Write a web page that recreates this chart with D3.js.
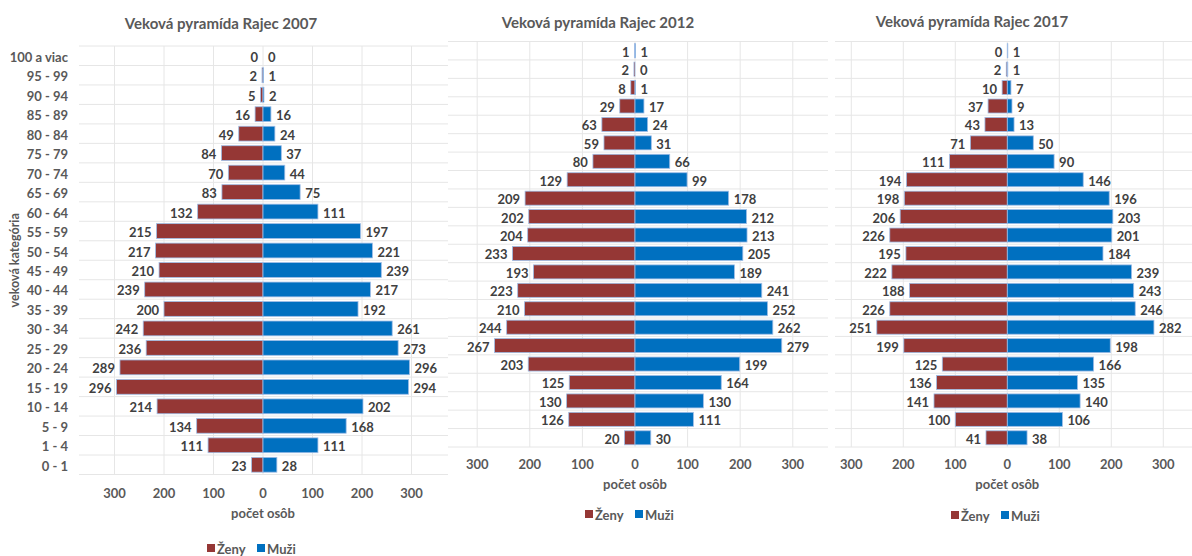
<!DOCTYPE html>
<html>
<head>
<meta charset="utf-8">
<script src="https://cdn.jsdelivr.net/npm/d3@7"></script>
<style>
  html, body { margin: 0; padding: 0; background: #fff; }
  svg { display: block; font-family: Lato, "Open Sans", sans-serif; font-weight: bold; }
</style>
</head>
<body>
<svg id="chart" width="1192" height="556"></svg>
<script>
const categories = ['100 a viac', '95 - 99', '90 - 94', '85 - 89', '80 - 84', '75 - 79', '70 - 74', '65 - 69',
    '60 - 64', '55 - 59', '50 - 54', '45 - 49', '40 - 44', '35 - 39', '30 - 34', '25 - 29', '20 - 24',
    '15 - 19', '10 - 14', '5 - 9', '1 - 4', '0 - 1'];

const years = ['2007', '2012', '2017'];

const zeny2007 = [0, 2, 5, 16, 49, 84, 70, 83, 132, 215, 217, 210, 239, 200, 242, 236, 289, 296, 214, 134, 111, 23];
const muzi2007 = [0, 1, 2, 16, 24, 37, 44, 75, 111, 197, 221, 239, 217, 192, 261, 273, 296, 294, 202, 168, 111, 28];
const zeny2012 = [1, 2, 8, 29, 63, 59, 80, 129, 209, 202, 204, 233, 193, 223, 210, 244, 267, 203, 125, 130, 126, 20];
const muzi2012 = [1, 0, 1, 17, 24, 31, 66, 99, 178, 212, 213, 205, 189, 241, 252, 262, 279, 199, 164, 130, 111, 30];
const zeny2017 = [0, 2, 10, 37, 43, 71, 111, 194, 198, 206, 226, 195, 222, 188, 226, 251, 199, 125, 136, 141, 100, 41];
const muzi2017 = [1, 1, 7, 9, 13, 50, 90, 146, 196, 203, 201, 184, 239, 243, 246, 282, 198, 166, 135, 140, 106, 38];

const ticks = [-300, -200, -100, 0, 100, 200, 300];

const colZeny = '#953735';
const colMuzi = '#0070c0';
const textCol = '#595959';
const labelCol = '#404040';
const gridCol = '#e6e6e6';

// where each panel sits on the page
const panels = [
    { year: years[0], zeny: zeny2007, muzi: muzi2007, left: 79, right: 448, zero: 263, k: 0.495,
      top: 46, bottom: 474.5, titleX: 221, titleY: 23, tickY: 493, axTitleY: 513, legX: 252, legY: 548, yLabels: true },
    { year: years[1], zeny: zeny2012, muzi: muzi2012, left: 448, right: 828, zero: 635, k: 0.526,
      top: 41.5, bottom: 447, titleX: 598, titleY: 22, tickY: 464, axTitleY: 484, legX: 630, legY: 514, yLabels: false },
    { year: years[2], zeny: zeny2017, muzi: muzi2017, left: 835, right: 1192, zero: 1007.3, k: 0.52,
      top: 41.5, bottom: 447, titleX: 972, titleY: 21, tickY: 464, axTitleY: 484, legX: 996, legY: 515, yLabels: false }
];

const svg = d3.select('#chart');

function drawPanel(p) {
    const g = svg.append('g');

    const x = d3.scaleLinear()
        .domain([(p.left - p.zero) / p.k, (p.right - p.zero) / p.k])
        .range([p.left, p.right]);

    const y = d3.scaleBand()
        .domain(categories)
        .range([p.top, p.bottom])
        .paddingInner(0.24)
        .paddingOuter(0.12);

    const step = y.step();

    // horizontal grid lines between rows
    const rowEdges = d3.range(categories.length + 1).map(i => p.top + i * step);
    g.selectAll('.hgrid').data(rowEdges).enter().append('line')
        .attr('x1', p.left).attr('x2', p.right)
        .attr('y1', d => d).attr('y2', d => d)
        .attr('stroke', gridCol).attr('stroke-width', 1);

    g.selectAll('.vgrid').data(ticks).enter().append('line')
        .attr('x1', d => x(d)).attr('x2', d => x(d))
        .attr('y1', p.top).attr('y2', p.bottom)
        .attr('stroke', gridCol).attr('stroke-width', 1);

    const rows = categories.map((c, i) => ({ cat: c, z: p.zeny[i], m: p.muzi[i] }));

    g.selectAll('.barZ').data(rows).enter().append('rect')
        .attr('x', d => x(-d.z))
        .attr('y', d => y(d.cat))
        .attr('width', d => x(0) - x(-d.z))
        .attr('height', y.bandwidth())
        .attr('fill', colZeny)
        .attr('stroke', '#9fbde6').attr('stroke-width', 0.8);

    g.selectAll('.barM').data(rows).enter().append('rect')
        .attr('x', x(0))
        .attr('y', d => y(d.cat))
        .attr('width', d => x(d.m) - x(0))
        .attr('height', y.bandwidth())
        .attr('fill', colMuzi)
        .attr('stroke', '#9fbde6').attr('stroke-width', 0.8);

    g.selectAll('.labZ').data(rows).enter().append('text')
        .attr('x', d => x(-d.z) - 5)
        .attr('y', d => y(d.cat) + y.bandwidth() / 2 + 1)
        .attr('text-anchor', 'end')
        .attr('dominant-baseline', 'central')
        .attr('font-size', 13).attr('fill', labelCol)
        .text(d => d.z);

    g.selectAll('.labM').data(rows).enter().append('text')
        .attr('x', d => x(d.m) + 5)
        .attr('y', d => y(d.cat) + y.bandwidth() / 2 + 1)
        .attr('text-anchor', 'start')
        .attr('dominant-baseline', 'central')
        .attr('font-size', 13).attr('fill', labelCol)
        .text(d => d.m);

    if (p.yLabels) {
        g.selectAll('.cat').data(categories).enter().append('text')
            .attr('x', p.left - 11)
            .attr('y', d => y(d) + y.bandwidth() / 2 + 1)
            .attr('text-anchor', 'end')
            .attr('dominant-baseline', 'central')
            .attr('font-size', 13).attr('fill', textCol)
            .text(d => d);

        g.append('text')
            .attr('transform', `translate(14,${(p.top + p.bottom) / 2}) rotate(-90)`)
            .attr('text-anchor', 'middle')
            .attr('dominant-baseline', 'central')
            .attr('font-size', 12.5).attr('fill', textCol)
            .text('veková kategória');
    }

    // x axis tick labels, shown as absolute values
    g.selectAll('.tick').data(ticks).enter().append('text')
        .attr('x', d => x(d))
        .attr('y', p.tickY)
        .attr('text-anchor', 'middle')
        .attr('dominant-baseline', 'central')
        .attr('font-size', 13).attr('fill', textCol)
        .text(d => Math.abs(d));

    g.append('text')
        .attr('x', x(0)).attr('y', p.axTitleY)
        .attr('text-anchor', 'middle')
        .attr('dominant-baseline', 'central')
        .attr('font-size', 13).attr('fill', textCol)
        .text('počet osôb');

    g.append('text')
        .attr('x', p.titleX).attr('y', p.titleY)
        .attr('text-anchor', 'middle')
        .attr('dominant-baseline', 'central')
        .attr('font-size', 15).attr('fill', textCol)
        .text('Veková pyramída Rajec ' + p.year);

    // legend
    const leg = g.append('g').attr('transform', `translate(${p.legX - 45},${p.legY})`);
    const items = [{ name: 'Ženy', col: colZeny }, { name: 'Muži', col: colMuzi }];
    items.forEach((it, i) => {
        const ox = i * 50;
        leg.append('rect')
            .attr('x', ox).attr('y', -4).attr('width', 8).attr('height', 8)
            .attr('fill', it.col);
        leg.append('text')
            .attr('x', ox + 10).attr('y', 1)
            .attr('dominant-baseline', 'central')
            .attr('font-size', 13).attr('fill', textCol)
            .text(it.name);
    });
}

panels.forEach(drawPanel);
</script>
</body>
</html>
